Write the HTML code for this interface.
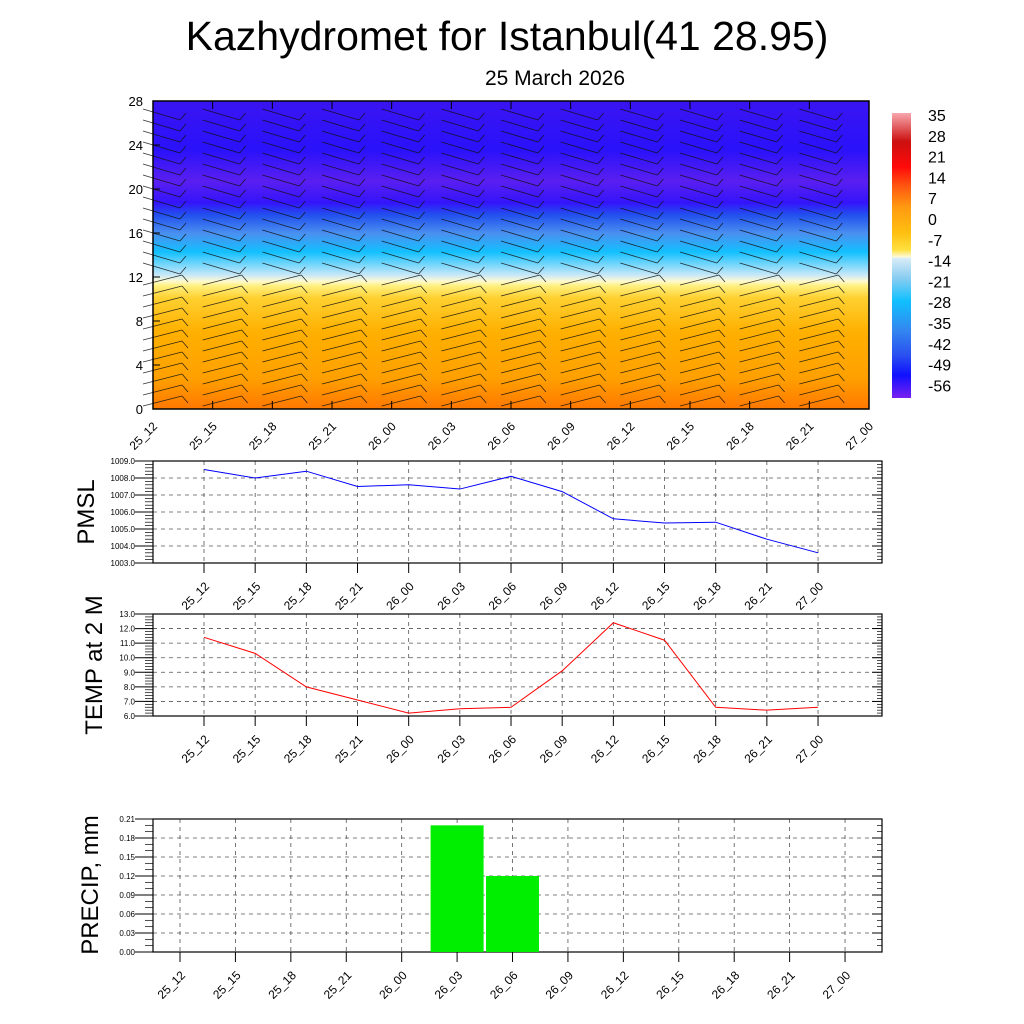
<!DOCTYPE html>
<html><head><meta charset="utf-8">
<style>
body{margin:0;background:#fff;}
svg{display:block;font-family:"Liberation Sans",sans-serif;}
</style></head>
<body>
<svg id="chart" width="1024" height="1024" viewBox="0 0 1024 1024" xmlns="http://www.w3.org/2000/svg">
<defs>
<linearGradient id="tgrad" x1="0" y1="0" x2="0" y2="1">
<stop offset="0" stop-color="#3a14f2"/>
<stop offset="0.16" stop-color="#2a12fb"/>
<stop offset="0.26" stop-color="#5a1ff0"/>
<stop offset="0.33" stop-color="#3414fb"/>
<stop offset="0.37" stop-color="#2250ee"/>
<stop offset="0.43" stop-color="#4a90f0"/>
<stop offset="0.49" stop-color="#12c0ff"/>
<stop offset="0.565" stop-color="#c8e8f8"/>
<stop offset="0.585" stop-color="#fffad0"/>
<stop offset="0.60" stop-color="#fff080"/>
<stop offset="0.64" stop-color="#ffd030"/>
<stop offset="0.75" stop-color="#ffb000"/>
<stop offset="0.90" stop-color="#ffa000"/>
<stop offset="1" stop-color="#ff7800"/>
</linearGradient>
<linearGradient id="cbgrad" x1="0" y1="0" x2="0" y2="1">
<stop offset="0" stop-color="#f7a8ae"/>
<stop offset="0.1" stop-color="#cc1010"/>
<stop offset="0.19" stop-color="#ff0a0a"/>
<stop offset="0.26" stop-color="#ff5a10"/>
<stop offset="0.33" stop-color="#ff9a10"/>
<stop offset="0.42" stop-color="#ffbf10"/>
<stop offset="0.48" stop-color="#ffe040"/>
<stop offset="0.505" stop-color="#fffad8"/>
<stop offset="0.51" stop-color="#d8ecf8"/>
<stop offset="0.58" stop-color="#88ccf0"/>
<stop offset="0.66" stop-color="#10c0ff"/>
<stop offset="0.76" stop-color="#3388f0"/>
<stop offset="0.85" stop-color="#2a50f0"/>
<stop offset="0.92" stop-color="#1010ff"/>
<stop offset="1" stop-color="#7a20f0"/>
</linearGradient>
</defs>
<text x="507" y="50" font-size="41" text-anchor="middle">Kazhydromet for Istanbul(41 28.95)</text>
<text x="555" y="85" font-size="21" text-anchor="middle">25 March 2026</text>

<g id="topg">
<rect x="153" y="101" width="716" height="308" fill="url(#tgrad)"/>
<g id="barbs" stroke="#111" stroke-width="0.8" fill="none" opacity="0.85"></g>
<rect x="153" y="101" width="716" height="308" fill="none" stroke="#000" stroke-width="1.5"/>
<g id="topaxes"></g>
</g>
<rect x="892" y="113" width="19" height="285" fill="url(#cbgrad)"/>
<g id="cblabels" font-size="16"></g>

<g id="pmsl"></g>
<g id="temp"></g>
<g id="precip"></g>

<text transform="translate(94,512) rotate(-90)" font-size="24" text-anchor="middle">PMSL</text>
<text transform="translate(102,665) rotate(-90)" font-size="24" text-anchor="middle">TEMP at 2 M</text>
<text transform="translate(98,885) rotate(-90)" font-size="24" text-anchor="middle">PRECIP, mm</text>
</svg>
<script>
const categories = ["25_12","25_15","25_18","25_21","26_00","26_03","26_06","26_09","26_12","26_15","26_18","26_21","27_00"];
const pmslValues = [1008.5,1008.0,1008.4,1007.5,1007.6,1007.35,1008.1,1007.2,1005.6,1005.35,1005.4,1004.4,1003.6];
const tempValues = [11.4,10.3,8.0,7.1,6.2,6.5,6.6,9.1,12.4,11.2,6.6,6.4,6.6];
const precipValues = [0,0,0,0,0,0.2,0.12,0,0,0,0,0,0];
const heightTicks = [0,4,8,12,16,20,24,28];
const cbLabels = ["35","28","21","14","7","0","-7","-14","-21","-28","-35","-42","-49","-56"];
const pmslTicks = [1003,1004,1005,1006,1007,1008,1009];
const tempTicks = [6,7,8,9,10,11,12,13];
const precipTicks = [0,0.03,0.06,0.09,0.12,0.15,0.18,0.21];

const NS="http://www.w3.org/2000/svg";
function mk(tag, attrs, parent){const e=document.createElementNS(NS,tag);for(const k in attrs)e.setAttribute(k,attrs[k]);parent.appendChild(e);return e;}

const topAx=document.getElementById('topaxes');
const tx=i=>153+i*(716/12), ty=v=>409-v*(308/28);
heightTicks.forEach(v=>{
  const t=mk('text',{x:143,y:ty(v)+5,'font-size':13,'text-anchor':'end'},topAx);t.textContent=v;
  
  
  mk('line',{x1:153,y1:ty(v),x2:160,y2:ty(v),stroke:'#000'},topAx);
});
categories.forEach((c,i)=>{
  mk('line',{x1:tx(i),y1:409,x2:tx(i),y2:401,stroke:'#000'},topAx);
  mk('line',{x1:tx(i),y1:101,x2:tx(i),y2:109,stroke:'#000'},topAx);
  const t=mk('text',{transform:`translate(${tx(i)+5},${427}) rotate(-45)`,'font-size':12,'text-anchor':'end'},topAx);t.textContent=c;
  
  
});
const bg=document.getElementById('barbs');
for(let i=0;i<12;i++){
  const x=tx(i)+5;
  for(let y=116;y<405;y+=11){
    const low=y>280;
    let x1,y1,x2,y2;
    if(low){x1=x-15;y1=y+4;x2=x+24;y2=y-6;}
    else{x1=x-15;y1=y-7;x2=x+22;y2=y+4;}
    const l=mk('line',{x1,y1,x2,y2},bg);
    
    
    mk('line',{x1:x2,y1:y2,x2:x2+6,y2:y2+(low?7:-7)},bg);
  }
}
const cb=document.getElementById('cblabels');
cbLabels.forEach((s,i)=>{const t=mk('text',{x:928,y:121+i*20.8},cb);t.textContent=s;
  
  });

function panel(id,y0,y1,ticks,fmt,xStart,step,minorN){
  const g=document.getElementById(id);
  const L=153,R=882,lo=ticks[0],hi=ticks[ticks.length-1];
  const py=v=>y1-(v-lo)/(hi-lo)*(y1-y0);
  const px=i=>xStart+i*step;
  ticks.forEach(v=>{
    if(v!==lo&&v!==hi) mk('line',{x1:L,y1:py(v),x2:R,y2:py(v),stroke:'#555','stroke-width':0.8,'stroke-dasharray':'4,4'},g);
    const t=mk('text',{x:L-18,y:py(v)+3,'font-size':8,'text-anchor':'end'},g);t.textContent=fmt(v);
    
    
    mk('line',{x1:L-18,y1:py(v),x2:L,y2:py(v),stroke:'#000'},g);
    mk('line',{x1:R,y1:py(v),x2:R-10,y2:py(v),stroke:'#000'},g);
  });
  const nMin=(ticks.length-1)*minorN;
  for(let k=0;k<=nMin;k++){const yy=y1-k*(y1-y0)/nMin;
    mk('line',{x1:L-8,y1:yy,x2:L,y2:yy,stroke:'#000','stroke-width':0.7},g);
    mk('line',{x1:R,y1:yy,x2:R-5,y2:yy,stroke:'#000','stroke-width':0.7},g);}
  categories.forEach((c,i)=>{
    mk('line',{x1:px(i),y1:y0,x2:px(i),y2:y1,stroke:'#555','stroke-width':0.8,'stroke-dasharray':'4,4'},g);
    mk('line',{x1:px(i),y1:y1,x2:px(i),y2:y1+10,stroke:'#000'},g);
    const t=mk('text',{transform:`translate(${px(i)+6},${y1+24}) rotate(-45)`,'font-size':12,'text-anchor':'end'},g);t.textContent=c;
    
    
  });
  mk('rect',{x:L,y:y0,width:R-L,height:y1-y0,fill:'none',stroke:'#000','stroke-width':1.2},g);
  return {g,py,px};
}
let p=panel('pmsl',461,563,pmslTicks,v=>v.toFixed(1),204,51.17,5);
let pl=mk('polyline',{points:pmslValues.map((v,i)=>p.px(i)+','+p.py(v)).join(' '),fill:'none',stroke:'#00f','stroke-width':1},p.g);


p=panel('temp',614,716,tempTicks,v=>v.toFixed(1),204,51.17,5);
pl=mk('polyline',{points:tempValues.map((v,i)=>p.px(i)+','+p.py(v)).join(' '),fill:'none',stroke:'#f00','stroke-width':1},p.g);


p=panel('precip',819,952,precipTicks,v=>v.toFixed(2),180,55.42,3);
precipValues.forEach((v,i)=>{ if(v<=0) return;
  const b=mk('rect',{x:p.px(i)-26.5,y:p.py(v),width:53,height:952-p.py(v),fill:'#00ee00'},p.g);
  
  
});
</script>
</body></html>
